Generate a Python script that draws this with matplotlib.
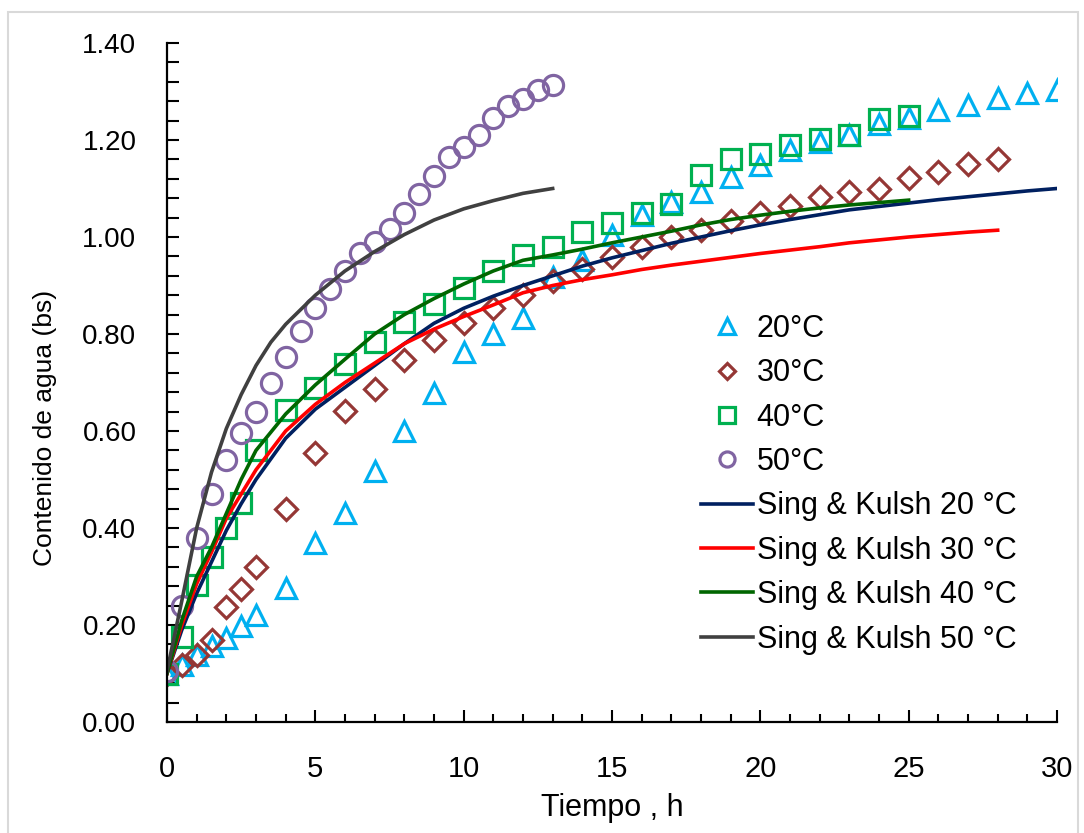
import matplotlib
matplotlib.use("Agg")
import matplotlib.pyplot as plt
from matplotlib.ticker import MultipleLocator, FormatStrFormatter
from matplotlib.patches import Rectangle

plt.rcParams['font.family'] = ['Liberation Sans', 'DejaVu Sans']

# ---- experimental data ----
t20 = [0, 0.5, 1, 1.5, 2, 2.5, 3, 4, 5, 6, 7, 8, 9, 10, 11, 12, 13, 14, 15, 16,
       17, 18, 19, 20, 21, 22, 23, 24, 25, 26, 27, 28, 29, 30]
y20 = [0.10, 0.117, 0.138, 0.157, 0.174, 0.197, 0.221, 0.276, 0.37, 0.43, 0.518,
       0.599, 0.678, 0.762, 0.799, 0.834, 0.918, 0.953, 1.004, 1.045, 1.073, 1.093,
       1.124, 1.148, 1.179, 1.196, 1.21, 1.234, 1.245, 1.262, 1.272, 1.286, 1.296, 1.303]

t30 = [0, 0.5, 1, 1.5, 2, 2.5, 3, 4, 5, 6, 7, 8, 9, 10, 11, 12, 13, 14, 15, 16,
       17, 18, 19, 20, 21, 22, 23, 24, 25, 26, 27, 28]
y30 = [0.10, 0.118, 0.138, 0.169, 0.238, 0.274, 0.32, 0.44, 0.555, 0.641, 0.686,
       0.747, 0.788, 0.822, 0.854, 0.88, 0.909, 0.935, 0.959, 0.98, 1.0, 1.014,
       1.032, 1.05, 1.064, 1.082, 1.093, 1.10, 1.121, 1.135, 1.15, 1.16]

t40 = [0, 0.5, 1, 1.5, 2, 2.5, 3, 4, 5, 6, 7, 8, 9, 10, 11, 12, 13, 14, 15, 16,
       17, 18, 19, 20, 21, 22, 23, 24, 25]
y40 = [0.10, 0.176, 0.282, 0.34, 0.40, 0.451, 0.561, 0.643, 0.688, 0.739, 0.784,
       0.825, 0.862, 0.894, 0.929, 0.963, 0.98, 1.01, 1.028, 1.049, 1.069, 1.128,
       1.16, 1.171, 1.19, 1.202, 1.21, 1.243, 1.249]

t50 = [0, 0.5, 1, 1.5, 2, 2.5, 3, 3.5, 4, 4.5, 5, 5.5, 6, 6.5, 7, 7.5, 8, 8.5, 9,
       9.5, 10, 10.5, 11, 11.5, 12, 12.5, 13]
y50 = [0.105, 0.24, 0.38, 0.47, 0.54, 0.595, 0.64, 0.70, 0.753, 0.807, 0.854,
       0.892, 0.930, 0.968, 0.989, 1.016, 1.050, 1.088, 1.126, 1.165, 1.185, 1.21,
       1.246, 1.270, 1.285, 1.303, 1.313]

# ---- model (Sing & Kulsh) ----
tm20 = t20
m20 = [0.10, 0.19, 0.265, 0.33, 0.395, 0.45, 0.50, 0.585, 0.645, 0.69, 0.735,
       0.78, 0.822, 0.853, 0.878, 0.90, 0.92, 0.94, 0.957, 0.972, 0.987, 1.0,
       1.013, 1.025, 1.036, 1.046, 1.056, 1.063, 1.07, 1.077, 1.083, 1.089, 1.095, 1.10]
tm30 = t30
m30 = [0.10, 0.20, 0.285, 0.35, 0.42, 0.47, 0.52, 0.60, 0.655, 0.70, 0.74, 0.78,
       0.81, 0.836, 0.86, 0.885, 0.90, 0.912, 0.922, 0.933, 0.942, 0.95, 0.958,
       0.966, 0.973, 0.98, 0.988, 0.994, 1.0, 1.005, 1.01, 1.014]
tm40 = t40
m40 = [0.10, 0.21, 0.30, 0.36, 0.43, 0.50, 0.56, 0.635, 0.695, 0.748, 0.80, 0.84,
       0.873, 0.903, 0.93, 0.952, 0.963, 0.975, 0.988, 1.0, 1.012, 1.025, 1.036,
       1.045, 1.053, 1.06, 1.066, 1.071, 1.076]
tm50 = [0, 0.5, 1, 1.5, 2, 2.5, 3, 3.5, 4, 5, 6, 7, 8, 9, 10, 11, 12, 13]
m50 = [0.105, 0.25, 0.40, 0.515, 0.605, 0.675, 0.735, 0.783, 0.82, 0.88, 0.93, 0.97,
       1.005, 1.035, 1.058, 1.075, 1.09, 1.10]

labels_data = ['20°C', '30°C', '40°C', '50°C']
labels_model = ['Sing & Kulsh 20 °C', 'Sing & Kulsh 30 °C',
                'Sing & Kulsh 40 °C', 'Sing & Kulsh 50 °C']

xticks = [0, 5, 10, 15, 20, 25, 30]
yticks = [0.0, 0.2, 0.4, 0.6, 0.8, 1.0, 1.2, 1.4]

W, H = 1084, 833
fig = plt.figure(figsize=(W / 100, H / 100), dpi=100)
ax = fig.add_axes([167 / W, 1 - 722 / H, (1057 - 167) / W, (722 - 43) / H])

mk = dict(linestyle='none', markerfacecolor='none', markeredgewidth=2.3)
h1, = ax.plot(t20, y20, marker='^', color='#00B0F0', markersize=15, label=labels_data[0], **mk)
h2, = ax.plot(t30, y30, marker='D', color='#953735', markersize=11.5, label=labels_data[1], **mk)
h3, = ax.plot(t40, y40, marker='s', color='#00B050', markersize=14.5, label=labels_data[2], **mk)
h4, = ax.plot(t50, y50, marker='o', color='#8064A2', markersize=14.5, label=labels_data[3], **mk)

lw = 2.6
h5, = ax.plot(tm20, m20, color='#002060', lw=lw, label=labels_model[0])
h6, = ax.plot(tm30, m30, color='#FF0000', lw=lw, label=labels_model[1])
h7, = ax.plot(tm40, m40, color='#006600', lw=lw, label=labels_model[2])
h8, = ax.plot(tm50, m50, color='#404040', lw=lw, label=labels_model[3])

ax.set_xlim(0, 30)
ax.set_ylim(0, 1.40)
ax.set_xticks(xticks)
ax.set_yticks(yticks)
ax.xaxis.set_minor_locator(MultipleLocator(1))
ax.yaxis.set_minor_locator(MultipleLocator(0.04))
ax.yaxis.set_major_formatter(FormatStrFormatter('%.2f'))

for s in ['top', 'right']:
    ax.spines[s].set_visible(False)
for s in ['left', 'bottom']:
    ax.spines[s].set_linewidth(1.6)
    ax.spines[s].set_color('black')

ax.tick_params(axis='y', which='both', direction='in', length=8.5, width=1.5,
               labelsize=20, pad=22)
ax.tick_params(axis='x', which='major', direction='in', length=8.5, width=1.5,
               labelsize=21, pad=24)
ax.tick_params(axis='x', which='minor', direction='in', length=6, width=1.5)

ax.set_xlabel('Tiempo , h', fontsize=22)
ax.xaxis.set_label_coords(0.5, -(808 - 722) / (722 - 43), transform=ax.transAxes)
ax.xaxis.label.set_va('center')
ax.set_ylabel('Contenido de agua (bs)', fontsize=19)
ax.yaxis.set_label_coords((45 - 167) / (1057 - 167), (722 - 428) / (722 - 43),
                          transform=ax.transAxes)
ax.yaxis.label.set_va('center')

leg = ax.legend(handles=[h1, h2, h3, h4, h5, h6, h7, h8],
                loc='upper left', bbox_to_anchor=(701 / W, 1 - 314 / H),
                bbox_transform=fig.transFigure, frameon=False, fontsize=22,
                markerscale=0.75, handlelength=1.7, handletextpad=0.12,
                labelspacing=0.47, borderpad=0, borderaxespad=0)

fig.patches.append(Rectangle((8 / W, -0.05), (1078 - 8) / W, 1 - 12 / H + 0.05,
                             transform=fig.transFigure, fill=False,
                             edgecolor='#D9D9D9', lw=1.5))

fig.savefig('out.png', dpi=100)
